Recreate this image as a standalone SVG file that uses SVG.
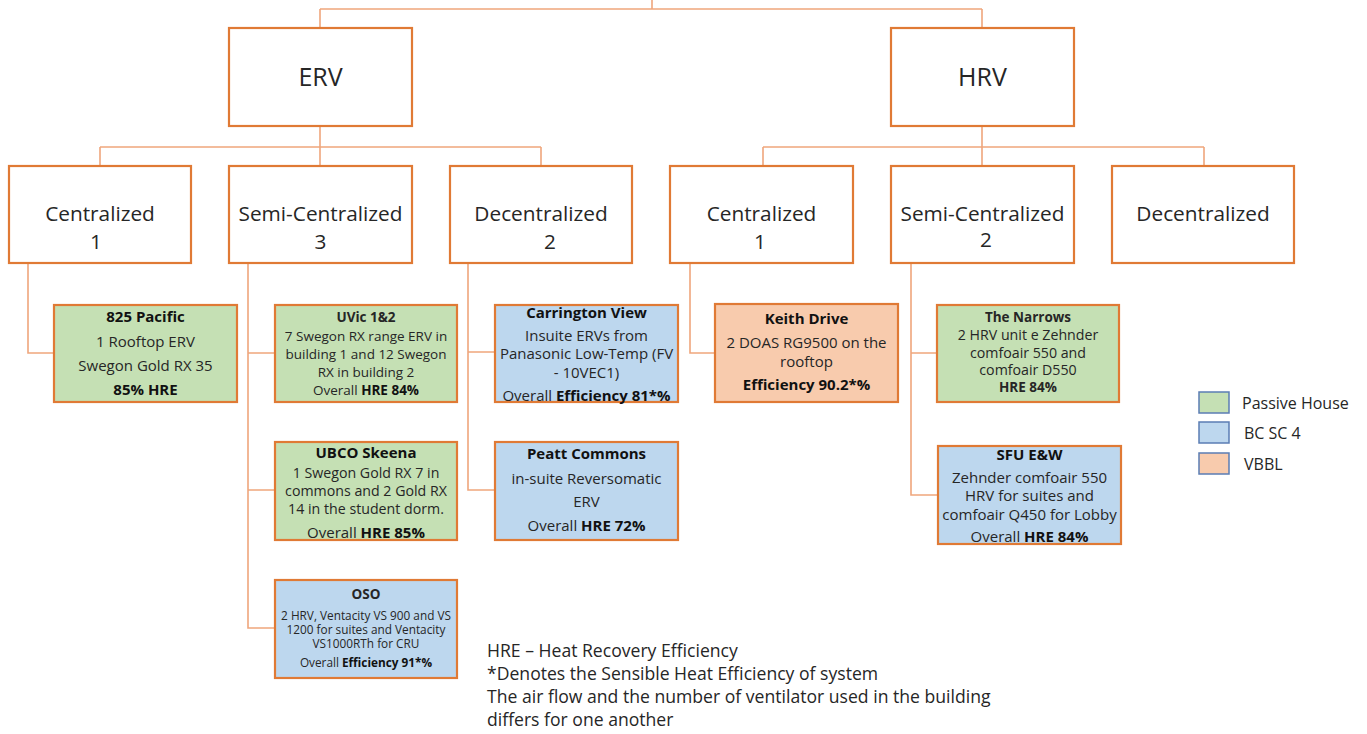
<svg xmlns="http://www.w3.org/2000/svg" width="1367" height="734" viewBox="0 0 1367 734">
<style>
.bx{fill:#fff;stroke:#E07A35;stroke-width:2.2}
.g{fill:#C5E0B4;stroke:#E07A35;stroke-width:2.2}
.b{fill:#BDD7EE;stroke:#E07A35;stroke-width:2.2}
.o{fill:#F8CBAD;stroke:#E07A35;stroke-width:2.2}
.cn{fill:none;stroke:#EFA67C;stroke-width:1.6}
text{font-family:"Open Sans","Noto Sans","Liberation Sans",sans-serif;fill:#262626;text-anchor:middle}
.t1{font-size:25px}
.t2{font-size:20.8px}
.h{font-size:15px;font-weight:bold;fill:#111}
.s{font-size:15px}
.sc{font-size:14.2px}
.xs{font-size:13.5px}
.xxs{font-size:11.8px}
.lg{stroke:#5B7DB4;stroke-width:1.5}
.leg{font-size:16px;text-anchor:start}
.ft{font-size:17.6px;text-anchor:start}
</style>
<g id="connectors">
<path class="cn" d="M652 0V9M320 9H982M320 9V28M982 9V28"/>
<path class="cn" d="M320 126V147M100 147H541M100 147V166M320 147V166M541 147V166"/>
<path class="cn" d="M982 126V147M763 147H1204M763 147V166M982 147V166M1204 147V166"/>
<path class="cn" d="M28 263V353H54"/>
<path class="cn" d="M248 263V628H275M248 353H275M248 490H275"/>
<path class="cn" d="M468 263V490H495M468 352H495"/>
<path class="cn" d="M690 263V353H715"/>
<path class="cn" d="M911 263V495H938M911 353H937"/>
</g>
<g id="erv"><rect class="bx" x="229" y="28" width="183" height="98"/><text class="t1" x="320.5" y="86">ERV</text></g>
<g id="hrv"><rect class="bx" x="891" y="28" width="183" height="98"/><text class="t1" x="982.5" y="86">HRV</text></g>
<g id="erv-central"><rect class="bx" x="9" y="166" width="182" height="97"/><text class="t2" x="100" y="221">Centralized</text><text class="t2" x="96" y="249">1</text></g>
<g id="erv-semi"><rect class="bx" x="229" y="166" width="183" height="97"/><text class="t2" x="320.5" y="221">Semi-Centralized</text><text class="t2" x="320.5" y="249">3</text></g>
<g id="erv-decentral"><rect class="bx" x="450" y="166" width="182" height="97"/><text class="t2" x="541" y="221">Decentralized</text><text class="t2" x="550" y="249">2</text></g>
<g id="hrv-central"><rect class="bx" x="670" y="166" width="183" height="97"/><text class="t2" x="761.5" y="221">Centralized</text><text class="t2" x="760" y="249">1</text></g>
<g id="hrv-semi"><rect class="bx" x="891" y="166" width="183" height="97"/><text class="t2" x="982.5" y="221">Semi-Centralized</text><text class="t2" x="986" y="247">2</text></g>
<g id="hrv-decentral"><rect class="bx" x="1112" y="166" width="182" height="97"/><text class="t2" x="1203" y="221">Decentralized</text></g>
<g id="pacific"><rect class="g" x="54" y="305" width="183" height="97"/>
<text class="h" x="145.5" y="322">825 Pacific</text>
<text class="s" x="145.5" y="347">1 Rooftop ERV</text>
<text class="s" x="145.5" y="371">Swegon Gold RX 35</text>
<text class="h" x="145.5" y="395">85% HRE</text></g>
<g id="uvic"><rect class="g" x="275" y="305" width="182" height="97"/>
<text class="xs" x="366" y="322" font-weight="bold" fill="#111">UVic 1&amp;2</text>
<text class="xs" x="366" y="341">7 Swegon RX range ERV in</text>
<text class="xs" x="366" y="359">building 1 and 12  Swegon</text>
<text class="xs" x="366" y="377">RX in building 2</text>
<text class="xs" x="366" y="395">Overall <tspan font-weight="bold" fill="#111">HRE 84%</tspan></text></g>
<g id="ubco"><rect class="g" x="275" y="442" width="182" height="98"/>
<text class="h" x="366" y="458">UBCO Skeena</text>
<text class="sc" x="366" y="478">1 Swegon Gold RX 7 in</text>
<text class="sc" x="366" y="496">commons and 2 Gold RX</text>
<text class="sc" x="366" y="514">14 in the student dorm.</text>
<text class="s" x="366" y="538">Overall <tspan font-weight="bold" fill="#111">HRE 85%</tspan></text></g>
<g id="oso"><rect class="b" x="275" y="580" width="182" height="98"/>
<text class="xs" x="366" y="599" font-weight="bold" fill="#111">OSO</text>
<text class="xxs" x="366" y="620">2 HRV, Ventacity VS 900 and VS</text>
<text class="xxs" x="366" y="634">1200  for suites and Ventacity</text>
<text class="xxs" x="366" y="648">VS1000RTh for CRU</text>
<text class="xxs" x="366" y="667">Overall <tspan font-weight="bold" fill="#111">Efficiency 91*%</tspan></text></g>
<g id="carrington"><rect class="b" x="495" y="305" width="183" height="97"/>
<text class="h" x="586.5" y="318">Carrington View</text>
<text class="s" x="586.5" y="341">Insuite ERVs from</text>
<text class="s" x="586.5" y="359">Panasonic Low-Temp (FV</text>
<text class="s" x="586.5" y="378">- 10VEC1)</text>
<text class="s" x="586.5" y="401">Overall <tspan font-weight="bold" fill="#111">Efficiency 81*%</tspan></text></g>
<g id="peatt"><rect class="b" x="495" y="442" width="183" height="98"/>
<text class="h" x="586.5" y="459">Peatt Commons</text>
<text class="s" x="586.5" y="484">in-suite Reversomatic</text>
<text class="s" x="586.5" y="507">ERV</text>
<text class="s" x="586.5" y="531">Overall <tspan font-weight="bold" fill="#111">HRE 72%</tspan></text></g>
<g id="keith"><rect class="o" x="715" y="304" width="183" height="98"/>
<text class="h" x="806.5" y="324">Keith Drive</text>
<text class="s" x="806.5" y="348">2 DOAS RG9500 on the</text>
<text class="s" x="806.5" y="367">rooftop</text>
<text class="h" x="806.5" y="390">Efficiency 90.2*%</text></g>
<g id="narrows"><rect class="g" x="937" y="305" width="182" height="97"/>
<text class="xs" x="1028" y="322" font-weight="bold" fill="#111">The Narrows</text>
<text class="sc" x="1028" y="340">2 HRV unit e Zehnder</text>
<text class="sc" x="1028" y="358">comfoair 550 and</text>
<text class="sc" x="1028" y="375">comfoair D550</text>
<text class="xs" x="1028" y="392" font-weight="bold" fill="#111">HRE 84%</text></g>
<g id="sfu"><rect class="b" x="938" y="446" width="183" height="98"/>
<text class="h" x="1029.5" y="460">SFU E&amp;W</text>
<text class="s" x="1029.5" y="483">Zehnder comfoair 550</text>
<text class="s" x="1029.5" y="501">HRV for suites and</text>
<text class="s" x="1029.5" y="519.5" font-size="14.8">comfoair Q450 for Lobby</text>
<text class="s" x="1029.5" y="542">Overall <tspan font-weight="bold" fill="#111">HRE 84%</tspan></text></g>
<g id="legend">
<rect x="1199" y="392" width="30" height="21" class="lg" fill="#C5E0B4"/>
<rect x="1199" y="422" width="30" height="21" class="lg" fill="#BDD7EE"/>
<rect x="1199" y="453" width="30" height="21" class="lg" fill="#F8CBAD"/>
<text class="leg" x="1242" y="409">Passive House</text>
<text class="leg" x="1244" y="439">BC SC 4</text>
<text class="leg" x="1244" y="470">VBBL</text>
</g>
<g id="notes">
<text class="ft" x="487" y="657">HRE – Heat Recovery Efficiency</text>
<text class="ft" x="487" y="680">*Denotes the Sensible Heat Efficiency of system</text>
<text class="ft" x="487" y="703">The air flow and the number of ventilator used in the building</text>
<text class="ft" x="487" y="726">differs for one another</text>
</g>
</svg>
